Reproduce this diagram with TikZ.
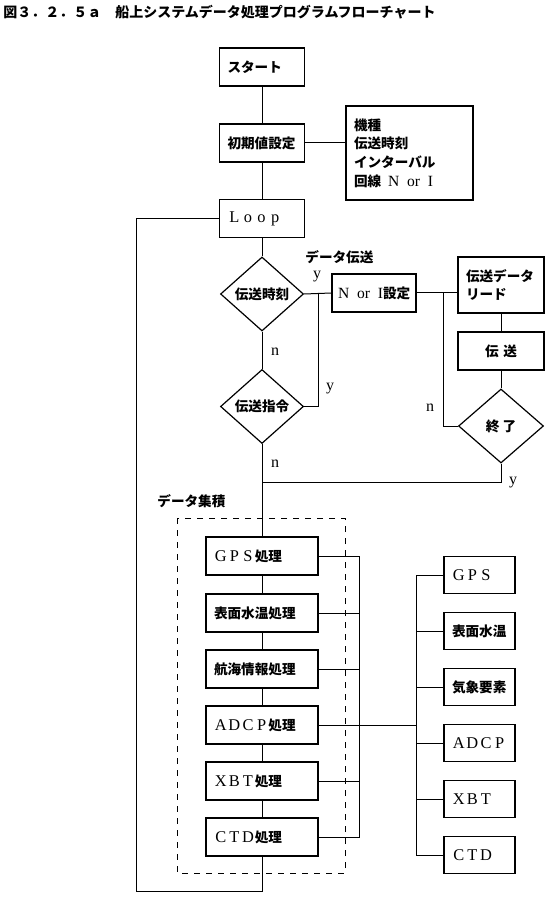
\documentclass[tikz,border=0pt]{standalone}
\usepackage{fontspec}
\setmainfont{Noto Sans CJK JP}
\newfontfamily\lat{Liberation Serif}
\usetikzlibrary{shapes.geometric, positioning}

\newcommand\lbl{\bfseries\fontsize{6.8}{9.35}\selectfont}
% full-width Latin letters
\newcommand\fw[1]{\fwloop#1\relax}
\def\fwloop#1{\ifx#1\relax\else\makebox[1em]{\lat\mdseries\fontsize{8.2}{9}\selectfont #1}\expandafter\fwloop\fi}
\newcommand\NorI{{\lat\mdseries\fontsize{7.8}{9}\selectfont N\enspace or\enspace I}}

\begin{document}
\begin{tikzpicture}[x=0.5pt, y=-0.5pt,
  box/.style={draw, line width=0.6pt, inner sep=4pt, minimum height=19pt, text width=34.5pt, align=left, font=\lbl},
  pbox/.style={box, text width=48pt},
  dbox/.style={box, text width=27.5pt, minimum height=18.5pt},
  dia/.style={draw, diamond, line width=0.6pt, inner sep=0pt, minimum width=41.5pt, minimum height=37pt, font=\lbl},
  lnk/.style={line width=0.5pt},
  yn/.style={font=\lat\fontsize{8}{9}\selectfont, inner sep=0pt}]
  \useasboundingbox (0,0) rectangle (550,897);

  \node[anchor=west, inner sep=0pt, font=\bfseries\fontsize{7}{8}\selectfont] (title) at (3,12)
    {図３．２．５ａ　船上システムデータ処理プログラムフローチャート};

  % main flow
  \node[box] (start) at (262,67) {スタート};
  \node[box] (init) at (262,143) {初期値設定};
  \node[box, text width=55.5pt, minimum height=47pt] (info) at (409.5,153)
    {機種\\伝送時刻\\インターバル\\回線\enspace\NorI};
  \node[box] (loop) at (262,218.5) {\fw{Loop}};
  \node[dia] (tx) at (262,294) {伝送時刻};
  \node[dia] (cmd) at (262,406.5) {伝送指令};

  % data transfer
  \node[anchor=west, inner sep=0pt, font=\lbl] (txlbl) at (305,257) {データ伝送};
  \node[box, inner xsep=3pt, text width=36pt] (nori) at (374,293) {\NorI 設定};
  \node[box, text width=35pt, minimum height=28pt] (read) at (501,285) {伝送データ\\リード};
  \node[box, text width=35pt, align=center] (send) at (501,351) {伝 送};
  \node[dia, minimum width=42.5pt] (fin) at (501,426) {終 了};

  \node[yn] (y1) at (317,277) {y};
  \node[yn] (n1) at (275,352) {n};
  \node[yn] (y2) at (330,389) {y};
  \node[yn] (n2) at (430,408) {n};
  \node[yn] (n3) at (275,464) {n};
  \node[yn] (y3) at (513,483) {y};

  % data collection
  \node[anchor=west, inner sep=0pt, font=\lbl] (collbl) at (157,501) {データ集積};
  \draw[dashed, line width=0.5pt] (177,518) rectangle (345,873);
  \node[pbox] (pgps) at (262,556) {\fw{GPS}処理};
  \node[pbox] (psst) at (262,613) {表面水温処理};
  \node[pbox] (pnav) at (262,669) {航海情報処理};
  \node[pbox] (padcp) at (262,725) {\fw{ADCP}処理};
  \node[pbox] (pxbt) at (262,781) {\fw{XBT}処理};
  \node[pbox] (pctd) at (262,837) {\fw{CTD}処理};

  \node[dbox] (gps) at (479.5,575) {\fw{GPS}};
  \node[dbox] (sst) at (479.5,631) {表面水温};
  \node[dbox] (met) at (479.5,687) {気象要素};
  \node[dbox] (adcp) at (479.5,743) {\fw{ADCP}};
  \node[dbox] (xbt) at (479.5,799) {\fw{XBT}};
  \node[dbox] (ctd) at (479.5,855) {\fw{CTD}};

  \coordinate (yj) at (318,294);
  \coordinate (nj) at (443,293);
  \coordinate (mg) at (262,482);
  \coordinate (lbus) at (359,556);
  \coordinate (rbus) at (416,575);
  \coordinate (back) at (136,891);

  \draw[lnk] (start) -- (init);
  \draw[lnk] (init.east) -- (init.east -| info.west);
  \draw[lnk] (init) -- (loop);
  \draw[lnk] (loop) -- (tx);
  \draw[lnk] (tx) -- (cmd);
  \draw[lnk] (tx.east) -- (nori.west);
  \draw[lnk] (cmd.east) -| (yj);
  \draw[lnk] (nori.east) -- (nori.east -| read.west);
  \draw[lnk] (read) -- (send);
  \draw[lnk] (send) -- (fin);
  \draw[lnk] (fin.west) -| (nj);
  \draw[lnk] (fin.south) |- (mg);
  \draw[lnk] (cmd) -- (pgps);
  \draw[lnk] (pgps) -- (psst);
  \draw[lnk] (psst) -- (pnav);
  \draw[lnk] (pnav) -- (padcp);
  \draw[lnk] (padcp) -- (pxbt);
  \draw[lnk] (pxbt) -- (pctd);

  \draw[lnk] (pgps.east) -| (lbus) |- (pctd.east);
  \draw[lnk] (psst.east) -- (psst.east -| lbus);
  \draw[lnk] (pnav.east) -- (pnav.east -| lbus);
  \draw[lnk] (pxbt.east) -- (pxbt.east -| lbus);
  \draw[lnk] (padcp.east) -- (padcp.east -| rbus);

  \draw[lnk] (gps.west) -| (rbus) |- (ctd.west);
  \draw[lnk] (sst.west) -- (sst.west -| rbus);
  \draw[lnk] (met.west) -- (met.west -| rbus);
  \draw[lnk] (adcp.west) -- (adcp.west -| rbus);
  \draw[lnk] (xbt.west) -- (xbt.west -| rbus);

  \draw[lnk] (pctd.south) |- (back) |- (loop.west);
\end{tikzpicture}
\end{document}
